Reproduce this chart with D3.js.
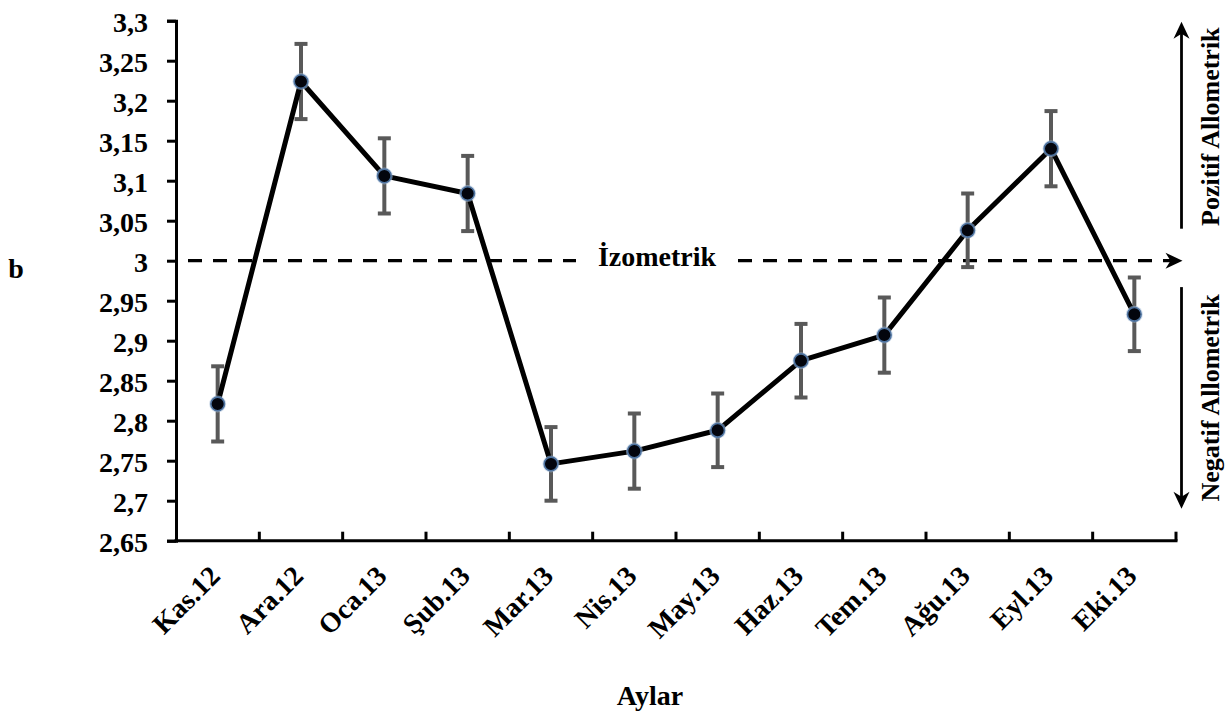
<!DOCTYPE html>
<html>
<head>
<meta charset="utf-8">
<script src="https://cdn.jsdelivr.net/npm/d3@7"></script>
<style>
  html, body { margin: 0; padding: 0; background: #fff; }
  svg { display: block; }
  text { font-family: "Liberation Serif", "Times New Roman", serif; font-weight: bold; fill: #000; }
</style>
</head>
<body>
<svg id="chart" width="1226" height="715"></svg>
<script>
// ---- data ----
const categories = ["Kas.12", "Ara.12", "Oca.13", "Şub.13", "Mar.13", "Nis.13",
                    "May.13", "Haz.13", "Tem.13", "Ağu.13", "Eyl.13", "Eki.13"];
const bValues = [2.821, 3.224, 3.106, 3.084, 2.746, 2.762, 2.788, 2.875, 2.907, 3.038, 3.140, 2.933];
const bErrors = [0.047, 0.047, 0.047, 0.047, 0.046, 0.047, 0.046, 0.046, 0.047, 0.046, 0.047, 0.046];
const yTicks = [2.65, 2.7, 2.75, 2.8, 2.85, 2.9, 2.95, 3.0, 3.05, 3.1, 3.15, 3.2, 3.25, 3.3];
const isometricValue = 3.0;
const yTitle = "b";
const xTitle = "Aylar";
const isoLabel = "İzometrik";
const posLabel = "Pozitif Allometrik";
const negLabel = "Negatif Allometrik";

(function () {
// ---- layout ----
const svg = d3.select("#chart");
const pLeft = 176, pRight = 1176, pTop = 20.7, pBottom = 540.7;
const x = d3.scaleBand().domain(categories).range([pLeft, pRight]);
const y = d3.scaleLinear().domain([2.65, 3.3]).range([pBottom, pTop]);
const fs = 28;

// ---- axes ----
const yAxis = d3.axisLeft(y).tickValues(yTicks).tickSize(9).tickPadding(19)
  .tickFormat(d => d3.format(".2~f")(d).replace(".", ","));
const gy = svg.append("g").attr("transform", `translate(${pLeft},0)`).call(yAxis);
gy.select(".domain").attr("stroke", "#000").attr("stroke-width", 3);
gy.selectAll(".tick line").attr("stroke", "#000").attr("stroke-width", 3);
gy.selectAll(".tick text").attr("font-size", fs).attr("font-family", null)
  .attr("dy", null).attr("y", 11);

const tickPos = categories.map(c => x(c)).concat([pRight]);
const gx = svg.append("g").attr("transform", `translate(0,${pBottom})`);
gx.append("line").attr("x1", pLeft - 1.5).attr("x2", pRight + 1.5)
  .attr("stroke", "#000").attr("stroke-width", 3);
gx.selectAll("line.tk").data(tickPos.slice(1)).join("line").attr("class", "tk")
  .attr("x1", d => d).attr("x2", d => d).attr("y1", 0).attr("y2", -9)
  .attr("stroke", "#000").attr("stroke-width", 3);
gx.selectAll("text.lbl").data(categories).join("text").attr("class", "lbl")
  .attr("font-size", fs)
  .attr("text-anchor", "end")
  .attr("transform", d => `translate(${x(d) + x.bandwidth() / 2 + 4},${37}) rotate(-45)`)
  .text(d => d);

// ---- titles ----
svg.append("text").attr("x", 650).attr("y", 705).attr("text-anchor", "middle")
  .attr("font-size", fs).text(xTitle);
svg.append("text").attr("x", 16).attr("y", 278).attr("text-anchor", "middle")
  .attr("font-size", fs).text(yTitle);

// ---- isometric dashed line with arrow ----
const yIso = y(isometricValue);
svg.append("line").attr("x1", 188).attr("x2", pRight - 4)
  .attr("y1", yIso).attr("y2", yIso)
  .attr("stroke", "#000").attr("stroke-width", 3.2).attr("stroke-dasharray", "14,11");
function arrowHead(tipX, tipY, angleDeg) {
  svg.append("path")
    .attr("d", "M0,0 L-17,-8 L-12,0 L-17,8 Z")
    .attr("transform", `translate(${tipX},${tipY}) rotate(${angleDeg})`)
    .attr("fill", "#000");
}
arrowHead(pRight + 6.5, yIso, 0);

// label with white background
const isoX = 657;
svg.append("rect").attr("x", isoX - 81).attr("y", yIso - 18).attr("width", 162).attr("height", 34).attr("fill", "#fff");
svg.append("text").attr("x", isoX).attr("y", yIso + 5).attr("text-anchor", "middle")
  .attr("font-size", fs).text(isoLabel);

// ---- right side arrows ----
const ax = pRight + 5.5;
svg.append("line").attr("x1", ax).attr("x2", ax).attr("y1", y(3.04)).attr("y2", y(3.3) + 6)
  .attr("stroke", "#000").attr("stroke-width", 2.8);
arrowHead(ax, y(3.3) + 1, -90);
svg.append("line").attr("x1", ax).attr("x2", ax).attr("y1", y(2.967)).attr("y2", y(2.69) - 6)
  .attr("stroke", "#000").attr("stroke-width", 2.8);
arrowHead(ax, y(2.69), 90);

svg.append("text").attr("font-size", 26).attr("text-anchor", "middle")
  .attr("transform", `translate(1219,${(y(3.3) + y(3.04)) / 2 + 2}) rotate(-90)`).text(posLabel);
svg.append("text").attr("font-size", 26).attr("text-anchor", "middle")
  .attr("transform", `translate(1219,${(y(2.967) + y(2.69)) / 2}) rotate(-90)`).text(negLabel);

// ---- series ----
const cx = d => x(d) + x.bandwidth() / 2;
const pts = categories.map((c, i) => ({ c, v: bValues[i], e: bErrors[i] }));

// error bars
const eb = svg.append("g").attr("stroke", "#595959").attr("stroke-width", 4);
eb.selectAll("line.v").data(pts).join("line").attr("class", "v")
  .attr("x1", d => cx(d.c)).attr("x2", d => cx(d.c))
  .attr("y1", d => y(d.v + d.e)).attr("y2", d => y(d.v - d.e));
eb.selectAll("line.t").data(pts).join("line").attr("class", "t")
  .attr("x1", d => cx(d.c) - 6.5).attr("x2", d => cx(d.c) + 6.5)
  .attr("y1", d => y(d.v + d.e)).attr("y2", d => y(d.v + d.e));
eb.selectAll("line.b").data(pts).join("line").attr("class", "b")
  .attr("x1", d => cx(d.c) - 6.5).attr("x2", d => cx(d.c) + 6.5)
  .attr("y1", d => y(d.v - d.e)).attr("y2", d => y(d.v - d.e));

// line
svg.append("path").datum(pts)
  .attr("d", d3.line().x(d => cx(d.c)).y(d => y(d.v)))
  .attr("fill", "none").attr("stroke", "#000").attr("stroke-width", 5)
  .attr("stroke-linejoin", "round");

// markers with soft glow
svg.append("g").selectAll("circle").data(pts).join("circle")
  .attr("cx", d => cx(d.c)).attr("cy", d => y(d.v)).attr("r", 8.5)
  .attr("fill", "#a9c0d8").attr("opacity", 0.55);
svg.append("g").selectAll("circle").data(pts).join("circle")
  .attr("cx", d => cx(d.c)).attr("cy", d => y(d.v)).attr("r", 6.8)
  .attr("fill", "#03050d").attr("stroke", "#4e73a0").attr("stroke-width", 1.6);
})();
</script>
</body>
</html>
